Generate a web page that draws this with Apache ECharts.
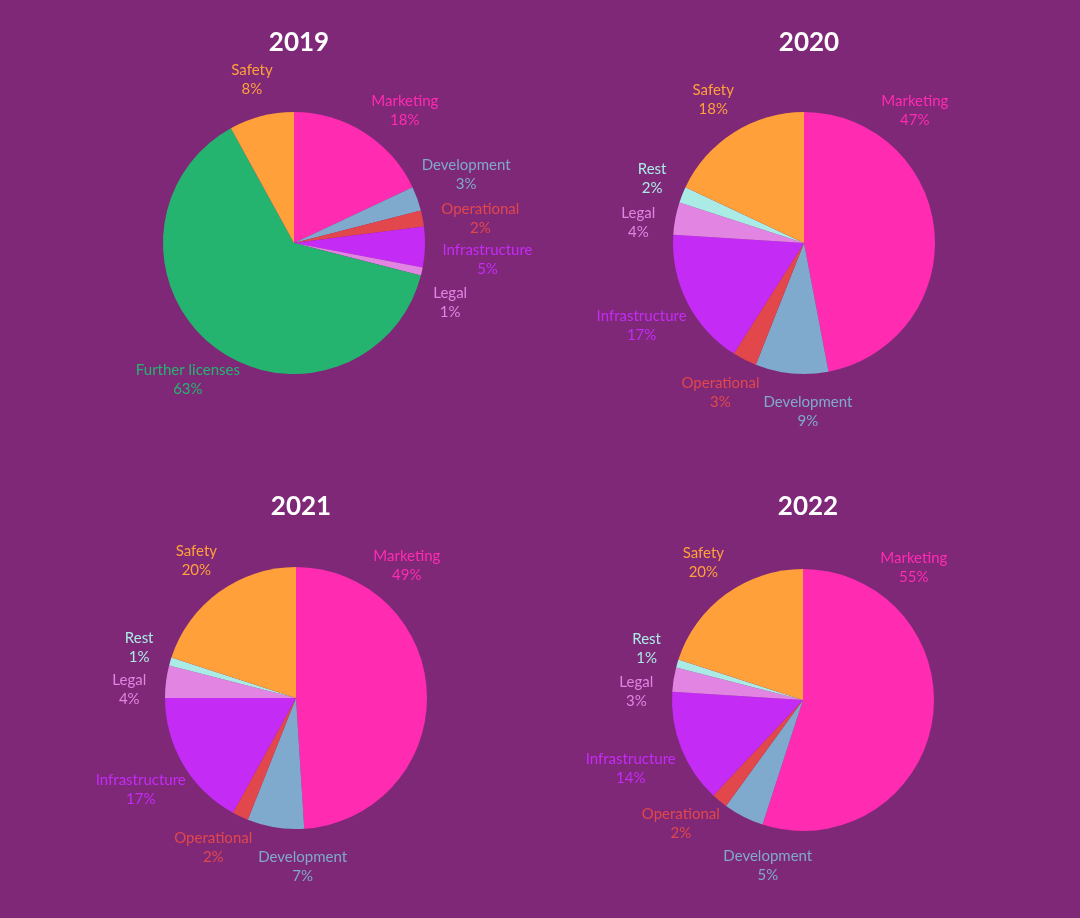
<!DOCTYPE html>
<html>
<head>
<meta charset="utf-8">
<script src="https://cdn.jsdelivr.net/npm/echarts@6/dist/echarts.min.js"></script>
<style>
  html, body { margin: 0; padding: 0; background: #7f2878; }
  #chart { width: 1080px; height: 918px; }
</style>
</head>
<body>
<div id="chart"></div>
<script>
// years and the categories of each pie (clockwise from 12 o'clock)
const years = ['2019', '2020', '2021', '2022'];
const cats2019 = ['Marketing', 'Development', 'Operational', 'Infrastructure', 'Legal', 'Further licenses', 'Safety'];
const catsLater = ['Marketing', 'Development', 'Operational', 'Infrastructure', 'Legal', 'Rest', 'Safety'];

// shares in percent
const values2019 = [18, 3, 2, 5, 1, 63, 8];
const values2020 = [47, 9, 3, 17, 4, 2, 18];
const values2021 = [49, 7, 2, 17, 4, 1, 20];
const values2022 = [55, 5, 2, 14, 3, 1, 20];

const colors = {
    'Marketing': '#ff2bb1',
    'Development': '#7fa9cd',
    'Operational': '#e2474b',
    'Infrastructure': '#c42cf6',
    'Legal': '#e284e2',
    'Further licenses': '#25b46f',
    'Rest': '#abebe6',
    'Safety': '#ffa03a'
};

const centers = [[294, 243], [804, 243], [296, 698], [803, 700]];
const titleTops = [25, 25, 489, 489];
const radius = 131;
const labelFont = '15px Lato';
const labelLineHeight = 19;
const labelGap = 19;
// the marketing label sits a bit up its slice, not at the middle
const marketingLabelAngle = 40;

const chart = echarts.init(document.getElementById('chart'));

function makeData(cats, vals) {
    return cats.map(function (c, i) {
        return {
            name: c,
            value: vals[i],
            itemStyle: { color: colors[c] },
            label: { color: colors[c] }
        };
    });
}

const allData = [
    makeData(cats2019, values2019),
    makeData(catsLater, values2020),
    makeData(catsLater, values2021),
    makeData(catsLater, values2022)
];

// label placement: centred text box just outside the slice's middle angle,
// colliding neighbours nudged apart (mostly the lower one moves down)
const ctx = document.createElement('canvas').getContext('2d');
ctx.font = labelFont;

function layoutLabels(k) {
    const d = allData[k];
    const c = centers[k];
    const total = d.reduce(function (s, it) { return s + it.value; }, 0);
    let cum = 0;
    const items = d.map(function (it, i) {
        const mid = (cum + it.value / 2) / total * 360;
        cum += it.value;
        const w = Math.max(ctx.measureText(it.name).width, ctx.measureText(it.value + '%').width);
        return { i: i, ang: i === 0 ? marketingLabelAngle : mid, w: w, h: 2 * labelLineHeight };
    });
    function place(it) {
        const a = it.ang * Math.PI / 180;
        const dx = Math.sin(a), dy = -Math.cos(a);
        const ext = 1 / Math.sqrt(Math.pow(dx / (it.w / 2), 2) + Math.pow(dy / (it.h / 2), 2));
        const dist = radius + labelGap + ext;
        it.x = c[0] + dist * dx;
        it.y = c[1] + dist * dy;
    }
    function hit(a, b) {
        return Math.abs(a.x - b.x) < (a.w + b.w) / 2 + 4 && Math.abs(a.y - b.y) < (a.h + b.h) / 2 + 3;
    }
    items.sort(function (a, b) { return a.ang - b.ang; });
    for (let n = 0; n < 400; n++) {
        items.forEach(place);
        let moved = false;
        for (let j = 0; j < items.length - 1; j++) {
            const a = items[j], b = items[j + 1];
            if (hit(a, b)) {
                const aLower = a.y > b.y;
                a.ang -= aLower ? 0.75 : 0.25;
                b.ang += aLower ? 0.25 : 0.75;
                moved = true;
            }
        }
        if (!moved) break;
    }
    const out = [];
    items.forEach(function (it) { out[it.i] = it; });
    return out;
}

const labelPos = allData.map(function (d, k) { return layoutLabels(k); });

const series = allData.map(function (d, k) {
    return {
        type: 'pie',
        center: centers[k],
        radius: radius,
        startAngle: 90,
        clockwise: true,
        avoidLabelOverlap: false,
        data: d,
        itemStyle: { borderWidth: 0 },
        emphasis: { disabled: true },
        label: {
            show: true,
            position: 'outside',
            formatter: '{b}\n{c}%',
            fontFamily: 'Lato',
            fontSize: 15,
            lineHeight: labelLineHeight
        },
        labelLine: { show: false },
        labelLayout: function (params) {
            const p = labelPos[params.seriesIndex][params.dataIndex];
            return { x: p.x, y: p.y, align: 'center', verticalAlign: 'middle' };
        }
    };
});

const titles = years.map(function (y, k) {
    return {
        text: y,
        left: centers[k][0],
        top: titleTops[k],
        textAlign: 'center',
        textStyle: {
            color: '#ffffff',
            fontFamily: 'Lato',
            fontWeight: 'bold',
            fontSize: 26
        }
    };
});

chart.setOption({
    backgroundColor: '#7f2878',
    animation: false,
    title: titles,
    series: series
});
</script>
</body>
</html>
